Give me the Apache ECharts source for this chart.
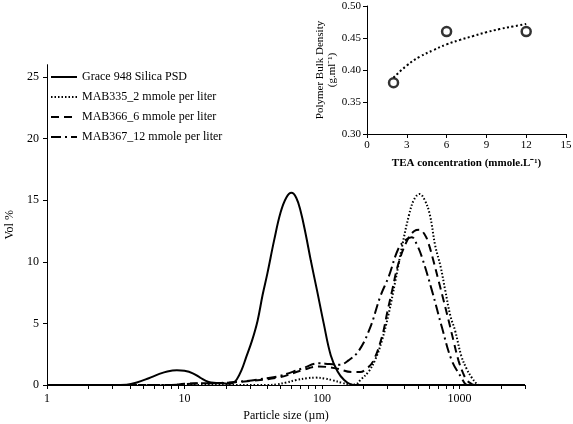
<!DOCTYPE html>
<html><head><meta charset="utf-8">
<script src="https://cdn.jsdelivr.net/npm/echarts@6/dist/echarts.min.js"></script>
<style>html,body{margin:0;padding:0;background:#fff}#c{width:573px;height:424px}</style>
</head><body><div id="c"></div>
<script>
// ---- Main chart data: [particle size (µm), vol %] ----
const graceSeries = [[1,0],[3,0],[3.8,0.03],[4.5,0.2],[5.5,0.55],[6.5,0.88],[7.5,1.1],[8.8,1.2],[10,1.15],[11.5,0.95],[13,0.6],[15,0.25],[17,0.17],[19,0.14],[21,0.1],[22.5,0.18],[24,0.45],[26,1.2],[28,2.2],[31,3.6],[34,5.2],[37,7.3],[40,9.0],[45,11.8],[50,14.0],[55,15.2],[60,15.6],[65,15.2],[70,14.1],[76,12.3],[83,10.1],[92,7.7],[103,5.0],[116,2.4],[130,1.1],[145,0.4],[162,0.05],[180,0],[3000,0]];
const mab335Series = [[1,0],[40,0],[47,0.05],[55,0.2],[65,0.4],[78,0.55],[90,0.6],[105,0.52],[120,0.38],[140,0.18],[160,0.05],[175,0.05],[191,0.42],[219,1.1],[245,2.1],[273,3.6],[306,5.8],[340,8.3],[382,11.2],[430,13.8],[470,15.1],[513,15.5],[560,15.0],[610,13.8],[667,11.3],[730,9.6],[788,7.7],[860,5.6],[931,4.4],[1030,2.4],[1130,1.3],[1230,0.6],[1335,0.1],[1400,0],[3000,0]];
const mab366Series = [[1,0],[8,0],[10,0.1],[15,0.15],[21,0.19],[31,0.35],[49,0.62],[72,1.2],[95,1.5],[126,1.35],[166,1.05],[190,1.05],[207,1.25],[235,1.9],[273,3.9],[300,6.0],[323,7.6],[361,9.9],[420,11.8],[470,12.5],[513,12.6],[560,12.2],[596,11.5],[650,10.0],[704,8.5],[770,6.8],[832,5.3],[910,3.5],[984,2.0],[1060,1.0],[1130,0.4],[1220,0.1],[1300,0],[3000,0]];
const mab367Series = [[1,0],[8,0],[12,0.12],[18,0.16],[25,0.27],[35,0.46],[49,0.73],[72,1.35],[95,1.76],[113,1.7],[135,1.65],[156,2.0],[186,2.8],[225,4.7],[266,7.2],[306,8.8],[361,11.1],[410,11.8],[451,12.0],[490,11.4],[533,10.4],[630,7.7],[745,4.7],[879,2.0],[1040,0.54],[1100,0.1],[1150,0],[3000,0]];
const seriesNames = ['Grace 948 Silica PSD','MAB335_2 mmole per liter','MAB366_6 mmole per liter','MAB367_12 mmole per liter'];
const volTicks = [0,5,10,15,20,25];
const sizeLabelTicks = [1,10,100,1000];
const sizeMinorTicks = [1,2,3,4,5,6,7,8,9,10,20,30,40,50,60,70,80,90,100,200,300,400,500,600,700,800,900,1000,2000,3000];

// ---- Inset data: TEA concentration vs bulk density ----
const teaConc = [2,6,12];
const bulkDensity = [0.38,0.46,0.46];
const trendConc = [2,3,4,5,6,7,8,9,10,11,12];
const trendDensity = [0.388,0.407,0.421,0.431,0.440,0.447,0.453,0.459,0.464,0.468,0.472];

const FONT = 'Liberation Serif';
const chart = echarts.init(document.getElementById('c'), null, {renderer:'canvas'});
const axisLine = {show:true, lineStyle:{color:'#000', width:1}};

chart.setOption({
  animation:false,
  backgroundColor:'#fff',
  textStyle:{fontFamily:FONT, color:'#000'},
  legend:{
    orient:'vertical', left:50, top:71, padding:0, itemWidth:26, itemHeight:12, itemGap:8,
    itemStyle:{opacity:0},
    textStyle:{fontFamily:FONT, fontSize:12, color:'#000'},
    data:seriesNames
  },
  grid:[
    {left:47, right:48, top:64.7, bottom:39, outerBoundsMode:'none'},
    {left:367, right:7, top:6, bottom:290, outerBoundsMode:'none'}
  ],
  xAxis:[
    {type:'log', logBase:10, min:1, max:3000, gridIndex:0,
     name:'Particle size (µm)', nameLocation:'middle', nameGap:20,
     nameTextStyle:{fontFamily:FONT, fontSize:12, color:'#000'},
     axisLine:axisLine, splitLine:{show:false},
     axisTick:{show:true, inside:false, length:4, customValues:sizeMinorTicks, lineStyle:{color:'#000'}},
     axisLabel:{customValues:sizeLabelTicks, formatter:v=>String(v), fontFamily:FONT, fontSize:12, color:'#000', margin:8}},
    {type:'value', min:0, max:15, interval:3, gridIndex:1,
     name:'TEA concentration (mmole.L⁻¹)', nameLocation:'middle', nameGap:24,
     nameTextStyle:{fontFamily:FONT, fontSize:11, fontWeight:'bold', color:'#000'},
     axisLine:axisLine, splitLine:{show:false},
     axisTick:{show:true, length:4, lineStyle:{color:'#000'}},
     axisLabel:{fontFamily:FONT, fontSize:11, color:'#000', margin:6}}
  ],
  yAxis:[
    {type:'value', min:0, max:26, interval:5, gridIndex:0,
     name:'Vol %', nameLocation:'middle', nameGap:26,
     nameTextStyle:{fontFamily:FONT, fontSize:12, color:'#000'},
     axisLine:axisLine, splitLine:{show:false},
     axisTick:{show:true, length:4, customValues:volTicks, lineStyle:{color:'#000'}},
     axisLabel:{customValues:volTicks, fontFamily:FONT, fontSize:12, color:'#000', margin:8}},
    {type:'value', min:0.30, max:0.50, interval:0.05, gridIndex:1,
     name:'Polymer Bulk Density\n(g.ml⁻¹)', nameLocation:'middle', nameGap:27,
     nameTextStyle:{fontFamily:FONT, fontSize:11, color:'#000', lineHeight:12},
     axisLine:axisLine, splitLine:{show:false},
     axisTick:{show:true, length:4, lineStyle:{color:'#000'}},
     axisLabel:{fontFamily:FONT, fontSize:11, color:'#000', margin:6, formatter:v=>v.toFixed(2)}}
  ],
  series:[
    {name:seriesNames[0], type:'line', xAxisIndex:0, yAxisIndex:0, data:graceSeries, smooth:0.4, symbol:'none',
     lineStyle:{color:'#000', width:2, type:'solid'}, itemStyle:{color:'#000'}},
    {name:seriesNames[1], type:'line', xAxisIndex:0, yAxisIndex:0, data:mab335Series, smooth:0.4, symbol:'none',
     lineStyle:{color:'#000', width:2, type:[1.5,2]}, itemStyle:{color:'#000'}},
    {name:seriesNames[2], type:'line', xAxisIndex:0, yAxisIndex:0, data:mab366Series, smooth:0.4, symbol:'none',
     lineStyle:{color:'#000', width:2, type:[8,5]}, itemStyle:{color:'#000'}},
    {name:seriesNames[3], type:'line', xAxisIndex:0, yAxisIndex:0, data:mab367Series, smooth:0.4, symbol:'none',
     lineStyle:{color:'#000', width:2, type:[10,4,2,4]}, itemStyle:{color:'#000'}},
    {name:'trend', type:'line', xAxisIndex:1, yAxisIndex:1, data:trendConc.map((c,i)=>[c,trendDensity[i]]), smooth:true, symbol:'none',
     lineStyle:{color:'#000', width:2, type:[2,2.5]}},
    {name:'density', type:'scatter', xAxisIndex:1, yAxisIndex:1, data:teaConc.map((c,i)=>[c,bulkDensity[i]]),
     symbol:'circle', symbolSize:9, itemStyle:{color:'#fff', borderColor:'#000', borderWidth:2.5}}
  ]
});
</script></body></html>
